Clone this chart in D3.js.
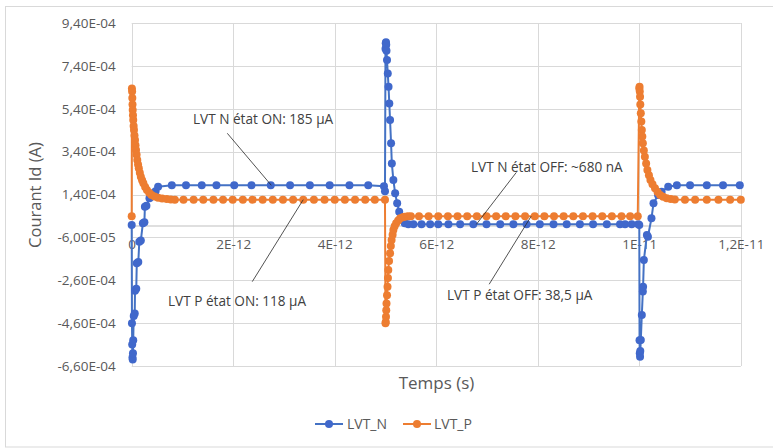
<!DOCTYPE html>
<html>
<head>
<meta charset="utf-8">
<script src="https://cdn.jsdelivr.net/npm/d3@7"></script>
<style>
  html, body { margin: 0; padding: 0; background: #fff; }
  svg { display: block; font-family: "Open Sans", "Liberation Sans", sans-serif; }
</style>
</head>
<body>
<svg id="chart" width="773" height="448"></svg>
<script>
// ---------- DATA (time in ps, current in µA) ----------
const lvtN_t = [0, 0.005, 0.01, 0.015, 0.02, 0.025, 0.03, 0.04, 0.06, 0.065, 0.09, 0.1, 0.13, 0.15, 0.18, 0.22, 0.25, 0.26, 0.29, 0.35, 0.38, 0.43, 0.47, 0.52,
  0.79, 1.07, 1.38, 1.67, 2.02, 2.36, 2.74, 3.12, 3.51, 3.90, 4.29, 4.66, 4.97, 4.99,
  5.0, 5.005, 5.01, 5.015, 5.02, 5.03, 5.045, 5.06, 5.075, 5.09, 5.11, 5.125, 5.155, 5.19, 5.23, 5.27, 5.32, 5.38, 5.45,
  5.55, 5.71, 5.88, 6.04, 6.24, 6.47, 6.73, 6.99, 7.26, 7.52, 7.78, 8.04, 8.31, 8.57, 8.83, 9.09, 9.36, 9.62, 9.72, 9.85, 9.98,
  10.0, 10.005, 10.01, 10.015, 10.02, 10.03, 10.05, 10.07, 10.075, 10.09, 10.15, 10.17, 10.24, 10.28, 10.37, 10.44, 10.57,
  10.74, 11.0, 11.33, 11.65, 11.98];
const lvtN_v = [-2, -460, -560, -620, -630, -600, -540, -427, -415, -309, -300, -181, -175, -80, -75, 6, 10, 83, 88, 122, 130, 146, 155, 176,
  183, 183, 183, 183, 183, 183, 183, 183, 183, 183, 183, 183, 178, 155,
  820, 845, 850, 838, 810, 767, 705, 643, 565, 487, 379, 285, 208, 146, 99, 60, 29, 6, 0.68,
  0.68, 0.68, 0.68, 0.68, 0.68, 0.68, 0.68, 0.68, 0.68, 0.68, 0.68, 0.68, 0.68, 0.68, 0.68, 0.68, 0.68, 0.68, 0.68, 0.68, 0.68,
  -2, -540, -600, -617, -590, -539, -422, -313, -290, -166, -49, -57, 29, 99, 138, 153, 176,
  183, 183, 183, 183, 183];

const lvtP_t = [0, 0.004, 0.008, 0.012, 0.016, 0.02, 0.025, 0.03, 0.038, 0.045, 0.055, 0.065, 0.075, 0.085, 0.097, 0.11, 0.125, 0.14, 0.16, 0.18,
  0.205, 0.23, 0.265, 0.3, 0.345, 0.39, 0.45, 0.52, 0.6, 0.69, 0.77, 0.85,
  1.02, 1.22, 1.41, 1.61, 1.80, 1.99, 2.19, 2.38, 2.58, 2.78, 2.98, 3.18, 3.38, 3.59, 3.80, 4.0, 4.2, 4.4, 4.6, 4.79, 4.99,
  5.0, 5.005, 5.01, 5.015, 5.02, 5.03, 5.04, 5.048, 5.055, 5.07, 5.09, 5.105, 5.12, 5.14, 5.155, 5.18, 5.21, 5.25, 5.29, 5.34, 5.38, 5.44, 5.5,
  5.66, 5.85, 6.04, 6.23, 6.42, 6.61, 6.8, 6.99, 7.18, 7.37, 7.56, 7.75, 7.94, 8.13, 8.32, 8.51, 8.7, 8.89, 9.08, 9.27, 9.46, 9.65, 9.82, 9.97,
  10.0, 10.005, 10.01, 10.015, 10.02, 10.03, 10.04, 10.05, 10.06, 10.07, 10.09, 10.11, 10.135, 10.16, 10.19, 10.22, 10.26, 10.31, 10.36, 10.41,
  10.47, 10.54, 10.62, 10.7, 10.9, 11.1, 11.33, 11.56, 11.79, 12.0];
const lvtP_v = [38.5, 635, 620, 590, 560, 534, 510, 487, 460, 441, 415, 394, 370, 348, 325, 301, 280, 262, 242, 223,
  206, 192, 175, 161, 148, 138, 131, 125, 121, 119, 117, 116,
  116, 116, 116, 116, 116, 116, 116, 116, 116, 116, 116, 116, 116, 116, 116, 116, 116, 116, 116, 116, 116,
  -461, -455, -430, -400, -368, -330, -290, -250, -212, -170, -134, -100, -72, -48, -26, -8, 6, 19, 29, 34, 36, 38, 38.5,
  38.5, 38.5, 38.5, 38.5, 38.5, 38.5, 38.5, 38.5, 38.5, 38.5, 38.5, 38.5, 38.5, 38.5, 38.5, 38.5, 38.5, 38.5, 38.5, 38.5, 38.5, 38.5, 38.5, 38.5,
  635, 643, 620, 596, 560, 519, 480, 441, 410, 379, 345, 316, 285, 254, 230, 208, 188, 169, 152, 138,
  129, 122, 119, 117, 116, 116, 116, 116, 116, 116];

const seriesNames = ["LVT_N", "LVT_P"];
const seriesColors = ["#4472C4", "#ED7D31"];
const markerColors = ["#4068CB", "#ED7D31"];

const yTickValues = [-6.6e-4, -4.6e-4, -2.6e-4, -6.0e-5, 1.4e-4, 3.4e-4, 5.4e-4, 7.4e-4, 9.4e-4];
const yTickLabels = ["-6,60E-04", "-4,60E-04", "-2,60E-04", "-6,00E-05", "1,40E-04", "3,40E-04", "5,40E-04", "7,40E-04", "9,40E-04"];
const xTickValues = [0, 2e-12, 4e-12, 6e-12, 8e-12, 1e-11, 1.2e-11];
const xTickLabels = ["0", "2E-12", "4E-12", "6E-12", "8E-12", "1E-11", "1,2E-11"];

const annotations = [
  { text: "LVT N état ON: 185 µA",   t: 2.75e-12, v: 183e-6, dx: -44, dy: -52 },
  { text: "LVT P état ON: 118 µA",   t: 3.38e-12, v: 116e-6, dx: -51, dy: 82 },
  { text: "LVT N état OFF: ~680 nA", t: 6.79e-12, v: 0.68e-6, dx: 40, dy: -52 },
  { text: "LVT P état OFF: 38,5 µA", t: 7.87e-12, v: 38.5e-6, dx: -42, dy: 68 }
];
const annotationLabelPos = [
  { x: 193, y: 123.5 },
  { x: 168, y: 306 },
  { x: 471, y: 171.5 },
  { x: 447, y: 299.5 }
];

// ---------- CHART ----------
const PS = 1e-12, UA = 1e-6;
const svg = d3.select("#chart");
const W = 773, H = 448;
const plot = { left: 131.7, right: 740.8, top: 23, bottom: 366 };

const x = d3.scaleLinear().domain([0, 1.2e-11]).range([plot.left, plot.right]);
const y = d3.scaleLinear().domain([-6.6e-4, 9.4e-4]).range([plot.bottom, plot.top]);

svg.append("rect").attr("x", 0).attr("y", 0).attr("width", W).attr("height", H).attr("fill", "#fff");
// outer chart border
svg.append("rect").attr("x", 5.5).attr("y", 6.5).attr("width", 820).attr("height", 440.5)
  .attr("fill", "none").attr("stroke", "#d9d9d9").attr("stroke-width", 1);

// gridlines
const grid = svg.append("g");
grid.selectAll("line.h").data(yTickValues).join("line")
  .attr("x1", plot.left).attr("x2", plot.right)
  .attr("y1", d => Math.round(y(d)) + 0.5).attr("y2", d => Math.round(y(d)) + 0.5)
  .attr("stroke", "#d9d9d9").attr("stroke-width", 1);
grid.selectAll("line.v").data(xTickValues).join("line")
  .attr("y1", plot.top).attr("y2", plot.bottom)
  .attr("x1", d => Math.round(x(d)) + 0.5).attr("x2", d => Math.round(x(d)) + 0.5)
  .attr("stroke", "#d9d9d9").attr("stroke-width", 1);

// x axis (crosses at y=0)
const xAxis = d3.axisBottom(x).tickValues(xTickValues).tickFormat((d, i) => xTickLabels[i]).tickSize(0).tickPadding(14);
const xg = svg.append("g").attr("transform", `translate(0,${Math.round(y(0)) + 0.5})`).call(xAxis);
xg.select(".domain").attr("stroke", "#bfbfbf");
xg.selectAll("text").attr("fill", "#595959").style("font-size", "13.5px").style("font-family", "Open Sans, sans-serif");

// y axis labels
const yAxis = d3.axisLeft(y).tickValues(yTickValues).tickFormat((d, i) => yTickLabels[i]).tickSize(0).tickPadding(16);
const yg = svg.append("g").attr("transform", `translate(${plot.left},0)`).call(yAxis);
yg.select(".domain").remove();
yg.selectAll("text").attr("fill", "#595959").style("font-size", "13.5px").style("font-family", "Open Sans, sans-serif");

// axis titles
svg.append("text").attr("x", 436.5).attr("y", 388.5).attr("text-anchor", "middle")
  .attr("fill", "#595959").style("font-size", "17px").text("Temps (s)");
svg.append("text").attr("transform", "translate(41,195) rotate(-90)").attr("text-anchor", "middle")
  .attr("fill", "#595959").style("font-size", "16.5px").text("Courant Id (A)");

// series
const seriesData = [
  lvtN_t.map((t, i) => ({ t: t * PS, v: lvtN_v[i] * UA })),
  lvtP_t.map((t, i) => ({ t: t * PS, v: lvtP_v[i] * UA }))
];
const line = d3.line().x(d => x(d.t)).y(d => y(d.v));
seriesData.forEach((data, si) => {
  const g = svg.append("g");
  g.append("path").datum(data).attr("d", line).attr("fill", "none")
    .attr("stroke", seriesColors[si]).attr("stroke-width", 2).attr("stroke-linejoin", "round");
  g.selectAll("circle").data(data).join("circle")
    .attr("cx", d => x(d.t)).attr("cy", d => y(d.v)).attr("r", 4)
    .attr("fill", markerColors[si]);
});

// annotations with leader lines
annotations.forEach((a, i) => {
  const px = x(a.t), py = y(a.v);
  const lp = annotationLabelPos[i];
  svg.append("line").attr("x1", px).attr("y1", py).attr("x2", px + a.dx).attr("y2", py + a.dy)
    .attr("stroke", "#262626").attr("stroke-width", 0.8);
  svg.append("text").attr("x", lp.x).attr("y", lp.y).attr("fill", "#404040")
    .style("font-size", "13.6px").text(a.text);
});

// legend
const legend = svg.append("g");
const legendItems = [{ x: 315, tx: 347 }, { x: 403, tx: 434 }];
seriesNames.forEach((name, i) => {
  const L = legendItems[i];
  legend.append("line").attr("x1", L.x).attr("x2", L.x + 28).attr("y1", 424).attr("y2", 424)
    .attr("stroke", seriesColors[i]).attr("stroke-width", 2);
  legend.append("circle").attr("cx", L.x + 14).attr("cy", 424).attr("r", 4).attr("fill", markerColors[i]);
  legend.append("text").attr("x", L.tx).attr("y", 429).attr("fill", "#595959")
    .style("font-size", "14px").text(name);
});
</script>
</body>
</html>
